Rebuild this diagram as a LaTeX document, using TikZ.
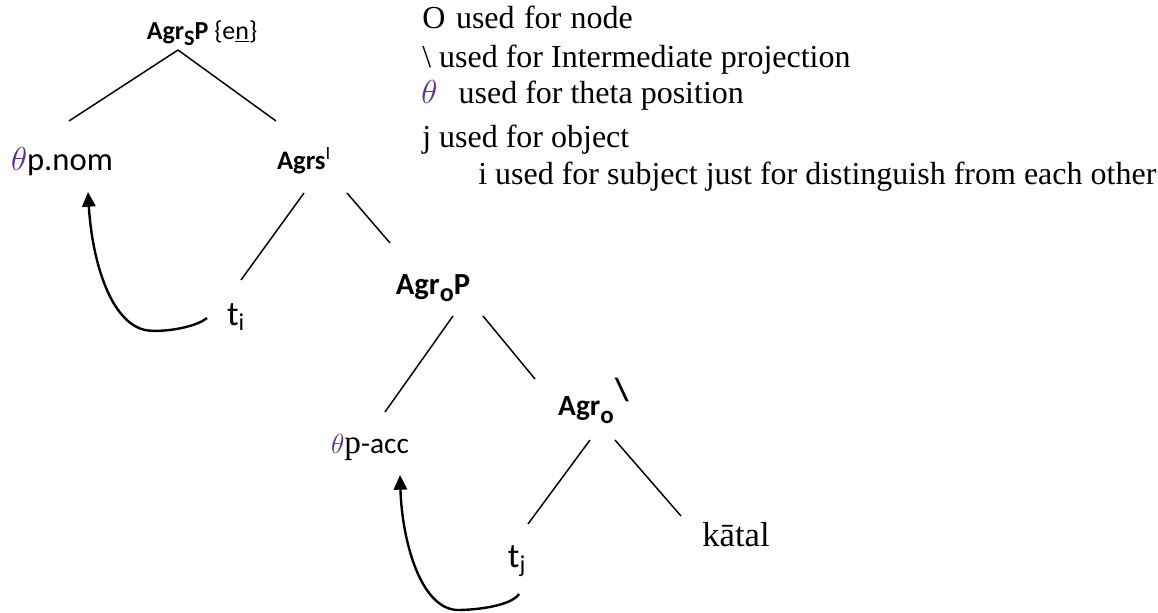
\documentclass[tikz,border=0pt]{standalone}
\usepackage{fontspec}
\usepackage{graphicx}
\newfontfamily\calfont{Carlito}
\newfontfamily\tnrfont{Liberation Serif}
\usetikzlibrary{calc,arrows.meta}
\definecolor{thcol}{RGB}{95,45,140}
\newcommand\thsym{\textcolor{thcol}{$\theta$}}
\newcommand\lowsub[1]{\raisebox{-0.25em}{\scalebox{0.85}{#1}}}
\begin{document}
\begin{tikzpicture}[x=0.75pt,y=-0.75pt,
  lab/.style={inner sep=0pt, font=\calfont\fontsize{22}{26}\selectfont},
  bl/.style={inner sep=0pt, font=\calfont\bfseries\fontsize{20}{24}\selectfont},
  leg/.style={inner sep=0pt, anchor=base west, font=\tnrfont\fontsize{24}{28}\selectfont},
  edge/.style={line width=1.1pt},
  mv/.style={line width=1.8pt, -{Triangle[length=11pt,width=10pt]}}]
\useasboundingbox (0,0) rectangle (1158,613);

% tree nodes
\node[bl, font=\calfont\bfseries\fontsize{19.5}{23}\selectfont] (root) at (202,33)
  {Agr\lowsub{S}P {\mdseries\{e\underline{n}\}}};
\node[lab, font=\calfont\fontsize{24.5}{28}\selectfont] (pnom) at (62,162) {\thsym p.nom};
\node[bl] (agrsI) at (304,161) {Agrs\textsuperscript{\mdseries I}};
\node[lab, font=\calfont\fontsize{26}{30}\selectfont] (ti) at (236,317) {t\textsubscript{i}};
\node[bl, font=\calfont\bfseries\fontsize{23}{27}\selectfont] (agroP) at (433,288) {Agr\lowsub{o}P};
\node[lab, font=\calfont\fontsize{22}{26}\selectfont] (pacc) at (370,447) {\thsym{\tnrfont\fontsize{25}{29}\selectfont p}-acc};
\node[bl, font=\calfont\bfseries\fontsize{22}{26}\selectfont] (agro) at (586,410) {Agr\lowsub{o}};
\node[bl, font=\calfont\bfseries\fontsize{24}{28}\selectfont] (bsl) at (622,390) {\textbackslash};
\node[lab, font=\calfont\fontsize{26}{30}\selectfont] (tj) at (517,561) {t\textsubscript{j}};
\node[inner sep=0pt, font=\tnrfont\fontsize{26}{30}\selectfont] (katal) at (736,535) {kātal};

% legend
\node[leg] (l1) at (422,29) {O\hspace*{2pt} used\hspace*{1pt} for\hspace*{1pt} node};
\node[leg] (l2) at (422,68) {\textbackslash\ used for Intermediate projection};
\node[leg] (l3) at (421,104) {\thsym\hspace*{10pt} used for theta position};
\node[leg] (l4) at (422,148) {j used for object};
\node[leg] (l5) at (478,185) {i used for subject just for distinguish from each other};

% edges
\draw[edge] ($(root)+(-24,17)$) -- ($(pnom)+(7,-41)$);
\draw[edge] ($(root)+(-24,17)$) -- ($(agrsI)+(-28,-40)$);
\draw[edge] ($(agrsI)+(0,32)$) -- ($(ti)+(5,-37)$);
\draw[edge] ($(agrsI)+(43,32)$) -- ($(agroP)+(-43,-45)$);
\draw[edge] ($(agroP)+(20,28)$) -- ($(pacc)+(15,-35)$);
\draw[edge] ($(agroP)+(50,28)$) -- ($(agro)+(-51,-31)$);
\draw[edge] ($(agro)+(4,30)$) -- ($(tj)+(11,-37)$);
\draw[edge] ($(agro)+(29,30)$) -- ($(katal)+(-55,-19)$);

% movement arrows
\draw[mv] ($(ti)+(-29,1)$) .. controls ($(ti)+(-41,11)$) and ($(ti)+(-76,16)$) .. ($(ti)+(-91,13)$)
  .. controls ($(pnom)+(48,160)$) and ($(pnom)+(30,98)$) .. ($(pnom)+(26,30)$);
\draw[mv] ($(tj)+(2,33)$) .. controls ($(tj)+(-5,44)$) and ($(tj)+(-37,49)$) .. ($(tj)+(-60,49)$)
  .. controls ($(pacc)+(50,161)$) and ($(pacc)+(32,93)$) .. ($(pacc)+(30,28)$);
\end{tikzpicture}
\end{document}
